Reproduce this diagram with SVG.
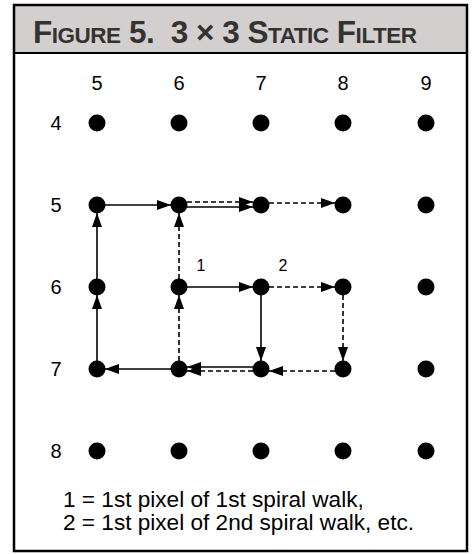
<svg xmlns="http://www.w3.org/2000/svg" width="474" height="554" viewBox="0 0 474 554">
<defs>
<style>
.lbl{font-family:"Liberation Sans",Arial,sans-serif;font-size:20px;fill:#000;text-anchor:middle}
.num{font-family:"Liberation Sans",Arial,sans-serif;font-size:16px;fill:#000;text-anchor:middle}
.leg{font-family:"Liberation Sans",Arial,sans-serif;font-size:22.6px;fill:#000}
.title{font-family:"Liberation Sans",Arial,sans-serif;font-weight:bold;font-size:31.5px;fill:#333}
.sc{font-size:22.5px}
.s{stroke:#000;stroke-width:1.6;fill:none;marker-end:url(#arr)}
.d{stroke:#000;stroke-width:1.6;fill:none;stroke-dasharray:5 3;marker-end:url(#arr)}
.dot{fill:#000}
</style>
<marker id="arr" markerUnits="userSpaceOnUse" markerWidth="15" markerHeight="11" refX="14" refY="5" orient="auto">
<path d="M0,0 L14,5 L0,10 z" fill="#000"/>
</marker>
</defs>
<rect x="0" y="0" width="474" height="554" fill="#fff"/>
<g id="frame">
<rect x="14" y="5" width="453" height="48" fill="#d3cfce"/>
<rect x="14" y="5" width="453" height="546" fill="none" stroke="#000" stroke-width="2.5"/>
<line x1="14" y1="53" x2="467" y2="53" stroke="#000" stroke-width="2"/>
<text class="title" x="33" y="43" xml:space="preserve" textLength="384" lengthAdjust="spacing">F<tspan class="sc">IGURE</tspan> 5.  3 × 3 S<tspan class="sc">TATIC</tspan> F<tspan class="sc">ILTER</tspan></text>
</g>
<g id="axis-labels">
<text class="lbl" x="97" y="90">5</text>
<text class="lbl" x="179" y="90">6</text>
<text class="lbl" x="261" y="90">7</text>
<text class="lbl" x="343" y="90">8</text>
<text class="lbl" x="426" y="90">9</text>
<text class="lbl" x="56" y="130">4</text>
<text class="lbl" x="56" y="212">5</text>
<text class="lbl" x="56" y="294">6</text>
<text class="lbl" x="56" y="376">7</text>
<text class="lbl" x="56" y="458">8</text>
</g>
<g id="connectors">
<line class="s" x1="97" y1="369" x2="97" y2="295"/>
<line class="s" x1="97" y1="287" x2="97" y2="213"/>
<line class="s" x1="97" y1="205" x2="171" y2="205"/>
<line class="s" x1="179" y1="207" x2="253" y2="207"/>
<line class="s" x1="179" y1="287" x2="253" y2="287"/>
<line class="s" x1="261" y1="287" x2="261" y2="361"/>
<line class="s" x1="261" y1="367" x2="187" y2="367"/>
<line class="s" x1="179" y1="369" x2="105" y2="369"/>
<line class="d" x1="179" y1="369" x2="179" y2="295"/>
<line class="d" x1="179" y1="287" x2="179" y2="213"/>
<line class="d" x1="179" y1="202" x2="253" y2="202"/>
<line class="d" x1="261" y1="203" x2="335" y2="203"/>
<line class="d" x1="261" y1="287" x2="335" y2="287"/>
<line class="d" x1="343" y1="287" x2="343" y2="361"/>
<line class="d" x1="343" y1="371" x2="269" y2="371"/>
<line class="d" x1="261" y1="371" x2="187" y2="371"/>
</g>
<g id="nodes">
<g id="r4"><circle class="dot" cx="97" cy="123" r="8.5"/><circle class="dot" cx="179" cy="123" r="8.5"/><circle class="dot" cx="261" cy="123" r="8.5"/><circle class="dot" cx="343" cy="123" r="8.5"/><circle class="dot" cx="426" cy="123" r="8.5"/></g>
<g id="r5"><circle class="dot" cx="97" cy="205" r="8.5"/><circle class="dot" cx="179" cy="205" r="8.5"/><circle class="dot" cx="261" cy="205" r="8.5"/><circle class="dot" cx="343" cy="205" r="8.5"/><circle class="dot" cx="426" cy="205" r="8.5"/></g>
<g id="r6"><circle class="dot" cx="97" cy="287" r="8.5"/><circle class="dot" cx="179" cy="287" r="8.5"/><circle class="dot" cx="261" cy="287" r="8.5"/><circle class="dot" cx="343" cy="287" r="8.5"/><circle class="dot" cx="426" cy="287" r="8.5"/></g>
<g id="r7"><circle class="dot" cx="97" cy="369" r="8.5"/><circle class="dot" cx="179" cy="369" r="8.5"/><circle class="dot" cx="261" cy="369" r="8.5"/><circle class="dot" cx="343" cy="369" r="8.5"/><circle class="dot" cx="426" cy="369" r="8.5"/></g>
<g id="r8"><circle class="dot" cx="97" cy="451" r="8.5"/><circle class="dot" cx="179" cy="451" r="8.5"/><circle class="dot" cx="261" cy="451" r="8.5"/><circle class="dot" cx="343" cy="451" r="8.5"/><circle class="dot" cx="426" cy="451" r="8.5"/></g>
</g>
<g id="walk-labels">
<text class="num" x="201" y="271">1</text>
<text class="num" x="283" y="271">2</text>
</g>
<g id="legend">
<text class="leg" x="63" y="507">1 = 1st pixel of 1st spiral walk,</text>
<text class="leg" x="63" y="530">2 = 1st pixel of 2nd spiral walk, etc.</text>
</g>
</svg>
